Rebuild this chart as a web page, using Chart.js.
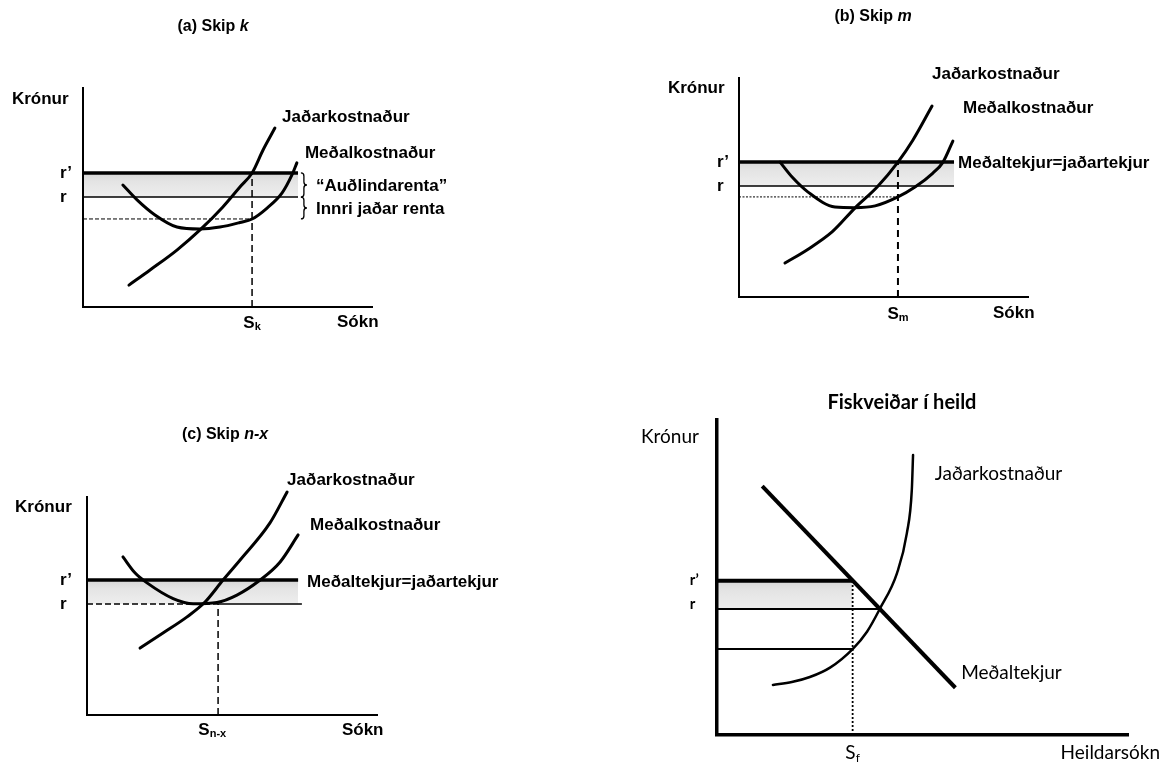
<!DOCTYPE html>
<html>
<head>
<meta charset="utf-8">
<script src="https://cdn.jsdelivr.net/npm/chart.js@4.4.1/dist/chart.umd.min.js"></script>
<style>
  html, body { margin: 0; padding: 0; background: #fff; }
  #page { position: relative; width: 1163px; height: 765px; overflow: hidden; }
  .panel { position: absolute; }
</style>
</head>
<body>
<div id="page">
  <div class="panel" style="left:0;top:0"><canvas id="chartA" width="581" height="382"></canvas></div>
  <div class="panel" style="left:581px;top:0"><canvas id="chartB" width="582" height="382"></canvas></div>
  <div class="panel" style="left:0;top:382px"><canvas id="chartC" width="581" height="383"></canvas></div>
  <div class="panel" style="left:581px;top:382px"><canvas id="chartD" width="582" height="383"></canvas></div>
</div>
<script>
// (a) Skip k  -- levels: r', r, innri jaðar
const aLevels = [61.2, 50.2, 40.2];
const aEffort = 58.5;
const aEnd = 74.4;
const aMarginal = [[15.9,10],[23.2,16.9],[32.5,26],[40.5,35.2],[48.4,45.7],[54.3,54.8],[58.5,61.2],[62.3,71.7],[66.4,81.7]];
const aAverage = [[13.8,55.7],[18.7,48.9],[24.9,42],[32.5,36.5],[40.5,35.6],[47.4,36.5],[54.3,38.6],[58.5,40.2],[63.7,45.2],[68.9,52.1],[72.3,60.3],[74,65.8]];

// (b) Skip m
const bLevels = [61.6, 50.7, 45.7];
const bEffort = 55;
const bEnd = 74.4;
const bMarginal = [[15.9,15.5],[23.5,21.5],[32.2,29.7],[40.1,40.6],[47.8,50.2],[55,61.6],[60.2,71.7],[66.8,87.2]];
const bAverage = [[14.2,61.6],[18.7,54.3],[23.9,47.9],[33.2,41.1],[40.1,40.8],[47.1,41.6],[55,45.7],[60.9,50.2],[67.1,56.6],[70.6,61.6],[74,71.2]];

// (c) Skip n-x
const cLevels = [61.9, 50.9];
const cEffort = 45.2;
const cEnds = [72.8, 74.1];
const cMarginal = [[18.3,30.7],[26.2,37.6],[34.5,45],[40.7,51.8],[46.9,61.9],[52.8,71.1],[63.1,88.1],[69,102.3]];
const cAverage = [[12.4,72.5],[16.6,65.1],[20.7,60.6],[29.7,53.4],[36.6,51],[44.8,51.6],[51.7,55],[59.7,61.9],[66.6,70.2],[72.8,82.6]];

// Fiskveiðar í heild
const dLevels = [49, 40, 27.3];
const dEffort = 33;
const dCross = 39.6;
const dRevenue = [[11,79],[58,15]];
const dMarginal = [[13.6,15.9],[18.2,16.8],[22.6,18.4],[27.5,21.4],[33,27.3],[36.5,32.8],[39.6,40],[43.8,51.4],[46.2,64.1],[47.4,77.8],[47.7,88.9]];

const yTickText = ['r\u2019', 'r'];

const SANS = '"Liberation Sans", Arial, sans-serif';
const CAL = 'Lato, "Open Sans", sans-serif';
const F = 'bold 17px ' + SANS;
const FT = 'bold 16px ' + SANS;
const FTI = 'italic bold 16px ' + SANS;
const FS = 'bold 11px ' + SANS;
const GREY = '#e6e6e6';

function drawRich(ctx, parts, x, y, align) {
  let total = 0;
  parts.forEach(p => { ctx.font = p.f; p.w = ctx.measureText(p.t).width; total += p.w; });
  let cx = align === 'center' ? x - total / 2 : align === 'right' ? x - total : x;
  parts.forEach(p => {
    ctx.font = p.f;
    ctx.fillText(p.t, cx, y + (p.dy || 0));
    cx += p.w;
  });
}

function brace(ctx, x, y1, y2, w) {
  const m = (y1 + y2) / 2, h = w / 2;
  ctx.beginPath();
  ctx.moveTo(x, y1);
  ctx.quadraticCurveTo(x + h, y1, x + h, y1 + h);
  ctx.lineTo(x + h, m - h);
  ctx.quadraticCurveTo(x + h, m, x + w, m);
  ctx.quadraticCurveTo(x + h, m, x + h, m + h);
  ctx.lineTo(x + h, y2 - h);
  ctx.quadraticCurveTo(x + h, y2, x, y2);
  ctx.stroke();
}

const notesPlugin = {
  id: 'notes',
  afterDraw(chart, args, opts) {
    const ctx = chart.ctx, xs = chart.scales.x, ys = chart.scales.y;
    ctx.save();
    ctx.fillStyle = '#000';
    ctx.strokeStyle = '#000';
    ctx.textBaseline = 'middle';
    ctx.textAlign = 'left';
    (opts.items || []).forEach(it => {
      drawRich(ctx, it.parts, xs.getPixelForValue(it.x), ys.getPixelForValue(it.y), it.align || 'left');
    });
    ctx.lineWidth = 1.3;
    (opts.braces || []).forEach(b => {
      brace(ctx, xs.getPixelForValue(b.x), ys.getPixelForValue(b.from), ys.getPixelForValue(b.to), 6);
    });
    ctx.restore();
  }
};

const t = (text, font) => [{ t: text, f: font }];
const sub = (main, small, big, little, dy) => [{ t: main, f: big }, { t: small, f: little, dy: dy }];

function pts(list) { return list.map(([x, y]) => ({ x, y })); }
function seg(list, width, dash, extra) {
  return Object.assign({
    data: pts(list), borderColor: '#000', borderWidth: width, borderDash: dash || [],
    pointRadius: 0, fill: false, tension: 0, clip: false, borderCapStyle: 'butt'
  }, extra || {});
}
function curve(list, width) {
  return seg(list, width, null, { cubicInterpolationMode: 'monotone', borderCapStyle: 'round', borderJoinStyle: 'round' });
}
// shaded strip between r' and r, a little darker under the r' line
function band(top, bottom, end, width) {
  return seg([[0, top], [end, top]], width, null, {
    fill: { value: bottom }, order: 10,
    backgroundColor: (c) => {
      const ch = c.chart, ys = ch.scales.y;
      if (!ch.chartArea || !ys) return GREY;
      const y1 = ys.getPixelForValue(top), y2 = ys.getPixelForValue(bottom);
      if (!isFinite(y1) || !isFinite(y2) || y1 === y2) return GREY;
      const g = ch.ctx.createLinearGradient(0, y1, 0, y2);
      g.addColorStop(0, '#d6d6d6');
      g.addColorStop(0.35, '#e4e4e4');
      g.addColorStop(1, '#eeeeee');
      return g;
    }
  });
}

function axisOpts(max, w, dir) {
  return {
    type: 'linear', min: 0, max: max,
    ticks: { display: false },
    grid: { display: false, drawTicks: false },
    border: { display: true, color: '#000', width: w, z: 1 },
    afterFit(s) { if (dir === 'x') s.height = 0; else s.width = 0; }
  };
}

function makeChart(id, pad, axisW, datasets, notes) {
  const chart = new Chart(document.getElementById(id), {
    type: 'line',
    data: { datasets },
    options: {
      responsive: false,
      animation: false,
      events: [],
      layout: { padding: pad },
      plugins: { legend: { display: false }, tooltip: { enabled: false }, notes },
      scales: { x: axisOpts(100, axisW, 'x'), y: axisOpts(100, axisW, 'y') }
    },
    plugins: [notesPlugin]
  });
  chart.update();
  return chart;
}

// (a)
makeChart('chartA', { left: 83, top: 88, right: 209, bottom: 75 }, 2, [
  band(aLevels[0], aLevels[1], aEnd, 3.5),
  seg([[0, aLevels[1]], [aEnd, aLevels[1]]], 1.6),
  seg([[0, aLevels[2]], [aEffort, aLevels[2]]], 1, [4, 2]),
  seg([[aEffort, 0], [aEffort, aLevels[0]]], 1.5, [7, 4]),
  curve(aMarginal, 3),
  curve(aAverage, 3)
], {
  items: [
    { x: 45, y: 128, align: 'center', parts: [{ t: '(a) Skip ', f: FT }, { t: 'k', f: FTI }] },
    { x: -24.6, y: 95, parts: t('Krónur', F) },
    { x: -8, y: aLevels[0], parts: t(yTickText[0], F) },
    { x: -8, y: aLevels[1], parts: t(yTickText[1], F) },
    { x: aEffort, y: -7.3, align: 'center', parts: sub('S', 'k', F, FS, 4) },
    { x: 87.9, y: -6.8, parts: t('Sókn', F) },
    { x: 68.9, y: 86.8, parts: t('Jaðarkostnaður', F) },
    { x: 76.8, y: 70.3, parts: t('Meðalkostnaður', F) },
    { x: 80.6, y: 55.3, parts: t('\u201cAuðlindarenta\u201d', F) },
    { x: 80.6, y: 44.8, parts: t('Innri jaðar renta', F) }
  ],
  braces: [
    { x: 75.4, from: aLevels[0], to: aLevels[1] },
    { x: 75.4, from: aLevels[1], to: aLevels[2] }
  ]
});

// (b)
makeChart('chartB', { left: 158, top: 78, right: 135, bottom: 85 }, 2, [
  band(bLevels[0], bLevels[1], bEnd, 3.5),
  seg([[0, bLevels[1]], [bEnd, bLevels[1]]], 1.6),
  seg([[0, bLevels[2]], [bEffort, bLevels[2]]], 1, [2, 1.5]),
  seg([[bEffort, 0], [bEffort, bLevels[0]]], 2, [7, 5]),
  curve(bMarginal, 3),
  curve(bAverage, 3)
], {
  items: [
    { x: 46.4, y: 128, align: 'center', parts: [{ t: '(b) Skip ', f: FT }, { t: 'm', f: FTI }] },
    { x: -24.6, y: 95.4, parts: t('Krónur', F) },
    { x: -7.6, y: bLevels[0], parts: t(yTickText[0], F) },
    { x: -7.6, y: bLevels[1], parts: t(yTickText[1], F) },
    { x: bEffort, y: -7.8, align: 'center', parts: sub('S', 'm', F, FS, 4) },
    { x: 87.9, y: -7.3, parts: t('Sókn', F) },
    { x: 66.8, y: 101.8, parts: t('Jaðarkostnaður', F) },
    { x: 77.5, y: 86.3, parts: t('Meðalkostnaður', F) },
    { x: 75.8, y: 61.2, parts: t('Meðaltekjur=jaðartekjur', F) }
  ]
});

// (c)
makeChart('chartC', { left: 87, top: 115, right: 204, bottom: 50 }, 2, [
  band(cLevels[0], cLevels[1], cEnds[0], 3.5),
  seg([[0, cLevels[1]], [cEffort, cLevels[1]]], 1.6, [6, 3]),
  seg([[cEffort, cLevels[1]], [cEnds[1], cLevels[1]]], 1.6),
  seg([[cEffort, 0], [cEffort, cLevels[1]]], 1.5, [7, 4]),
  curve(cMarginal, 3),
  curve(cAverage, 3)
], {
  items: [
    { x: 47.6, y: 128.4, align: 'center', parts: [{ t: '(c) Skip ', f: FT }, { t: 'n-x', f: FTI }] },
    { x: -24.8, y: 95.4, parts: t('Krónur', F) },
    { x: -9.3, y: cLevels[0], parts: t(yTickText[0], F) },
    { x: -9.3, y: cLevels[1], parts: t(yTickText[1], F) },
    { x: cEffort - 2, y: -6.9, align: 'center', parts: sub('S', 'n-x', F, FS, 4) },
    { x: 87.9, y: -6.9, parts: t('Sókn', F) },
    { x: 69, y: 107.8, parts: t('Jaðarkostnaður', F) },
    { x: 76.9, y: 87.2, parts: t('Meðalkostnaður', F) },
    { x: 75.9, y: 61, parts: t('Meðaltekjur=jaðartekjur', F) }
  ]
});

// Fiskveiðar í heild
makeChart('chartD', { left: 136, top: 38, right: 35, bottom: 30 }, 3.5, [
  band(dLevels[0], dLevels[1], dEffort, 4),
  seg([[0, dLevels[1]], [dCross, dLevels[1]]], 2),
  seg([[0, dLevels[2]], [dEffort, dLevels[2]]], 2),
  seg([[dEffort, 0], [dEffort, dLevels[0]]], 1.8, [2, 2]),
  seg(dRevenue, 4),
  curve(dMarginal, 2.5)
], {
  items: [
    { x: 45, y: 105.4, align: 'center', parts: t('Fiskveiðar í heild', 'bold 20px ' + CAL) },
    { x: -18.5, y: 94.6, parts: t('Krónur', '19px ' + CAL) },
    { x: -6.6, y: dLevels[0], parts: t(yTickText[0], 'bold 15px ' + CAL) },
    { x: -6.6, y: dLevels[1] + 1.4, parts: t(yTickText[1], 'bold 15px ' + CAL) },
    { x: dEffort, y: -5.7, align: 'center', parts: sub('S', 'f', '19px ' + CAL, '12px ' + CAL, 5) },
    { x: 107.8, y: -5.7, align: 'right', parts: t('Heildarsókn', '19px ' + CAL) },
    { x: 53, y: 82.9, parts: t('Jaðarkostnaður', '19px ' + CAL) },
    { x: 59.4, y: 19.7, parts: t('Meðaltekjur', '19px ' + CAL) }
  ]
});
</script>
</body>
</html>
